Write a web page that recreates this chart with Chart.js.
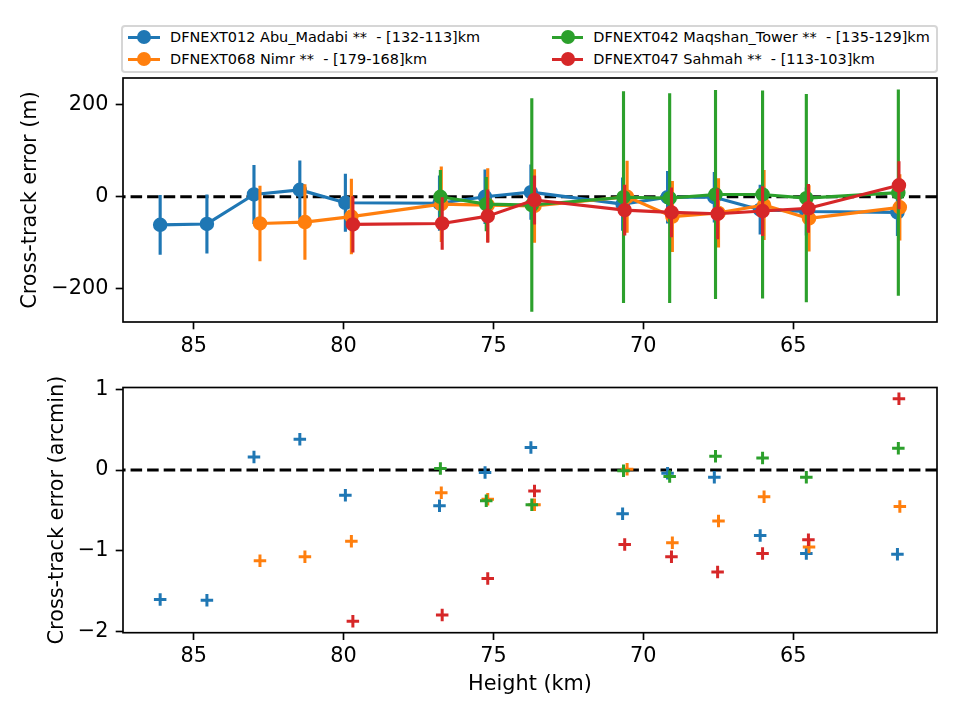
<!DOCTYPE html>
<html>
<head>
<meta charset="utf-8">
<script src="https://cdn.jsdelivr.net/npm/chart.js@4.4.1/dist/chart.umd.min.js"></script>
<style>
html,body{margin:0;padding:0;background:#fff;}
#wrap{position:relative;width:960px;height:720px;overflow:hidden;font-family:'DejaVu Sans';}
canvas{position:absolute;left:0;}
#c1{top:0;}
#c2{top:360px;}
#legend{position:absolute;left:121.3px;top:24.7px;width:817px;height:48.6px;box-sizing:border-box;border:2px solid #d6d6d6;border-radius:4px;background:#fff;}
.lgline{position:absolute;height:3.1px;}
.lgdot{position:absolute;width:14px;height:14px;border-radius:50%;}
.lgtext{position:absolute;font-family:'DejaVu Sans';font-size:14.46px;line-height:17px;white-space:pre;color:#000;}
</style>
</head>
<body>
<div id="wrap">
  <canvas id="c1" width="960" height="360"></canvas>
  <canvas id="c2" width="960" height="360"></canvas>
  <div id="legend"></div>
</div>
<script>
// ---------------- DATA ----------------
const seriesLabels = [
  'DFNEXT012 Abu_Madabi **  - [132-113]km',
  'DFNEXT068 Nimr **  - [179-168]km',
  'DFNEXT042 Maqshan_Tower **  - [135-129]km',
  'DFNEXT047 Sahmah **  - [113-103]km'
];
const seriesColors = ['#1f77b4', '#ff7f0e', '#2ca02c', '#d62728'];

// Heights (km)
const abuHeight  = [86.12, 84.56, 82.99, 81.46, 79.94, 76.80, 75.28, 73.75, 70.69, 69.19, 67.63, 66.10, 64.56, 61.52];
const nimrHeight = [82.79, 81.29, 79.74, 76.74, 75.19, 73.63, 70.54, 69.03, 67.49, 65.97, 64.47, 61.44];
const maqHeight  = [76.77, 75.24, 73.72, 70.66, 69.12, 67.59, 66.02, 64.56, 61.49];
const sahHeight  = [79.69, 76.71, 75.19, 73.63, 70.62, 69.06, 67.52, 66.02, 64.49, 61.47];

// Cross-track error (m) and its error bar (m)
const abuErrM   = [-61, -59, 5, 15, -13, -14, 0, 10, -16, -1, -1, -28, -32, -34];
const abuSigM   = [65, 64, 64, 64, 63, 60, 59, 60, 58, 57, 55, 54, 52, 51];
const nimrErrM  = [-58, -55, -43, -16, -18, -20, 0, -43, -35, -18, -47, -23];
const nimrSigM  = [82, 82, 82, 82, 80, 80, 78, 77, 75, 76, 72, 72];
const maqErrM   = [0, -16, -18, -1, -3, 5, 5, -3, 9];
const maqSigM   = [58, 59, 232, 230, 228, 227, 226, 226, 224];
const sahErrM   = [-60, -58, -42, -7, -29, -34, -37, -31, -25, 25];
const sahSigM   = [61, 57, 58, 53, 55, 54, 55, 54, 53, 52];

// Cross-track error (arcmin)
const abuErrArc  = [-1.60, -1.61, 0.16, 0.38, -0.31, -0.44, -0.03, 0.28, -0.54, -0.04, -0.09, -0.81, -1.03, -1.04];
const nimrErrArc = [-1.12, -1.07, -0.88, -0.28, -0.36, -0.43, 0.01, -0.90, -0.63, -0.33, -0.95, -0.45];
const maqErrArc  = [0.02, -0.38, -0.43, -0.01, -0.08, 0.17, 0.15, -0.09, 0.27];
const sahErrArc  = [-1.87, -1.79, -1.34, -0.26, -0.92, -1.07, -1.26, -1.03, -0.86, 0.88];

// Ticks
const xTicks = [85, 80, 75, 70, 65];
const topYTicks = [200, 0, -200];
const botYTicks = [1, 0, -1, -2];

// Axis labels
const topYLabel = 'Cross-track error (m)';
const botYLabel = 'Cross-track error (arcmin)';
const xLabel = 'Height (km)';

// Axis limits
const xMin = 60.2, xMax = 87.36;
const topYMin = -272, topYMax = 258;
const botYMin = -2.01, botYMax = 1.02;

// ---------------- BUILD ----------------
const heights = [abuHeight, nimrHeight, maqHeight, sahHeight];
const valsM = [abuErrM, nimrErrM, maqErrM, sahErrM];
const sigsM = [abuSigM, nimrSigM, maqSigM, sahSigM];
const valsArc = [abuErrArc, nimrErrArc, maqErrArc, sahErrArc];

const FONT = 'DejaVu Sans';
const FS = 20.8;
const LW = 3.125;
Chart.defaults.font.family = FONT;
Chart.defaults.color = '#000';

const fmt = v => (v < 0 ? '\u2212' + Math.abs(v) : String(v));
const zip = (xs, ys) => xs.map((x, i) => ({x: x, y: ys[i]}));

const errorBars = {
  id: 'errorBars',
  beforeDatasetDraw(chart, args) {
    const ds = chart.data.datasets[args.index];
    if (!ds.errors) return;
    const ctx = chart.ctx, xs = chart.scales.x, ys = chart.scales.y, a = chart.chartArea;
    ctx.save();
    ctx.beginPath();
    ctx.rect(a.left, a.top, a.right - a.left, a.bottom - a.top);
    ctx.clip();
    ctx.strokeStyle = ds.borderColor;
    ctx.lineWidth = LW;
    ctx.lineCap = 'butt';
    ctx.beginPath();
    ds.data.forEach((p, i) => {
      const px = xs.getPixelForValue(p.x);
      ctx.moveTo(px, ys.getPixelForValue(p.y - ds.errors[i]));
      ctx.lineTo(px, ys.getPixelForValue(p.y + ds.errors[i]));
    });
    ctx.stroke();
    ctx.restore();
  }
};

const frame = {
  id: 'frame',
  afterDatasetsDraw(chart) {
    const ctx = chart.ctx, a = chart.chartArea;
    ctx.save();
    ctx.strokeStyle = '#000';
    ctx.lineWidth = 1.67;
    ctx.strokeRect(a.left, a.top, a.right - a.left, a.bottom - a.top);
    ctx.restore();
  }
};

function xScale(height, title) {
  return {
    type: 'linear', reverse: true, min: xMin, max: xMax, offset: false,
    afterBuildTicks: s => { s.ticks = xTicks.map(v => ({value: v})); },
    afterFit: s => { s.height = height; },
    grid: {display: true, drawOnChartArea: false, drawTicks: true, tickLength: 7.3, tickWidth: 1.67, tickColor: '#000'},
    border: {display: false},
    ticks: {font: {family: FONT, size: FS, lineHeight: 1.2}, color: '#000', padding: 4.5, maxRotation: 0, autoSkip: false, callback: fmt},
    title: title ? {display: true, text: title, color: '#000', font: {family: FONT, size: FS, lineHeight: 1.2}, padding: {top: 0, bottom: 22.5}} : {display: false}
  };
}
function yScale(min, max, ticks, title, titlePad) {
  return {
    type: 'linear', min: min, max: max,
    afterBuildTicks: s => { s.ticks = ticks.map(v => ({value: v})); },
    afterFit: s => { s.width = 123; },
    grid: {display: true, drawOnChartArea: false, drawTicks: true, tickLength: 7.3, tickWidth: 1.67, tickColor: '#000'},
    border: {display: false},
    ticks: {font: {family: FONT, size: FS, lineHeight: 1.2}, color: '#000', padding: 7.3, autoSkip: false, callback: fmt},
    title: {display: true, text: title, color: '#000', font: {family: FONT, size: FS, lineHeight: 1.2}, padding: {top: titlePad, bottom: 0}}
  };
}
function zeroLine() {
  return {
    data: [{x: xMin, y: 0}, {x: xMax, y: 0}],
    showLine: true, borderColor: '#000', borderWidth: LW, borderDash: [11.56, 5],
    pointRadius: 0, order: 10, tension: 0
  };
}

// Top chart
const topSets = [zeroLine()];
for (let k = 0; k < 4; k++) {
  topSets.push({
    label: seriesLabels[k],
    data: zip(heights[k], valsM[k]),
    errors: sigsM[k],
    showLine: true, tension: 0,
    borderColor: seriesColors[k], backgroundColor: seriesColors[k],
    borderWidth: LW, borderJoinStyle: 'round',
    pointStyle: 'circle', pointRadius: 6.25, pointBorderWidth: 2,
    pointBackgroundColor: seriesColors[k], pointBorderColor: seriesColors[k],
    order: 4 - k
  });
}
new Chart(document.getElementById('c1'), {
  type: 'scatter',
  data: {datasets: topSets},
  options: {
    responsive: false, animation: false, devicePixelRatio: 1,
    layout: {padding: {left: 0, right: 23, top: 78, bottom: 0}},
    plugins: {legend: {display: false}, tooltip: {enabled: false}},
    scales: {x: xScale(38, null), y: yScale(topYMin, topYMax, topYTicks, topYLabel, 18.5)}
  },
  plugins: [errorBars, frame]
});

// Bottom chart
const botSets = [zeroLine()];
for (let k = 0; k < 4; k++) {
  botSets.push({
    label: seriesLabels[k],
    data: zip(heights[k], valsArc[k]),
    showLine: false,
    borderColor: seriesColors[k], backgroundColor: seriesColors[k],
    pointStyle: 'cross', pointRadius: 6.25, pointBorderWidth: 3,
    pointBorderColor: seriesColors[k],
    order: 4 - k
  });
}
new Chart(document.getElementById('c2'), {
  type: 'scatter',
  data: {datasets: botSets},
  options: {
    responsive: false, animation: false, devicePixelRatio: 1,
    layout: {padding: {left: 0, right: 23, top: 27.5, bottom: 0}},
    plugins: {legend: {display: false}, tooltip: {enabled: false}},
    scales: {x: xScale(87.3, xLabel), y: yScale(botYMin, botYMax, botYTicks, botYLabel, 45.5)}
  },
  plugins: [frame]
});

// Legend (HTML, real text)
const wrap = document.getElementById('wrap');
const lgCols = [{line: 128.3, text: 170}, {line: 551.7, text: 593.3}];
const lgRows = [37.3, 59.3];
const lgPlace = [[0, 0], [0, 1], [1, 0], [1, 1]];
for (let k = 0; k < 4; k++) {
  const col = lgCols[lgPlace[k][0]], cy = lgRows[lgPlace[k][1]];
  const ln = document.createElement('div');
  ln.className = 'lgline';
  ln.style.left = col.line + 'px'; ln.style.width = '31.7px';
  ln.style.top = (cy - 1.55) + 'px'; ln.style.background = seriesColors[k];
  wrap.appendChild(ln);
  const dot = document.createElement('div');
  dot.className = 'lgdot';
  dot.style.left = (col.line + 15.85 - 7) + 'px'; dot.style.top = (cy - 7) + 'px';
  dot.style.background = seriesColors[k];
  wrap.appendChild(dot);
  const tx = document.createElement('div');
  tx.className = 'lgtext';
  tx.style.left = col.text + 'px'; tx.style.top = (cy - 8.2) + 'px';
  tx.textContent = seriesLabels[k];
  wrap.appendChild(tx);
}
</script>
</body>
</html>
